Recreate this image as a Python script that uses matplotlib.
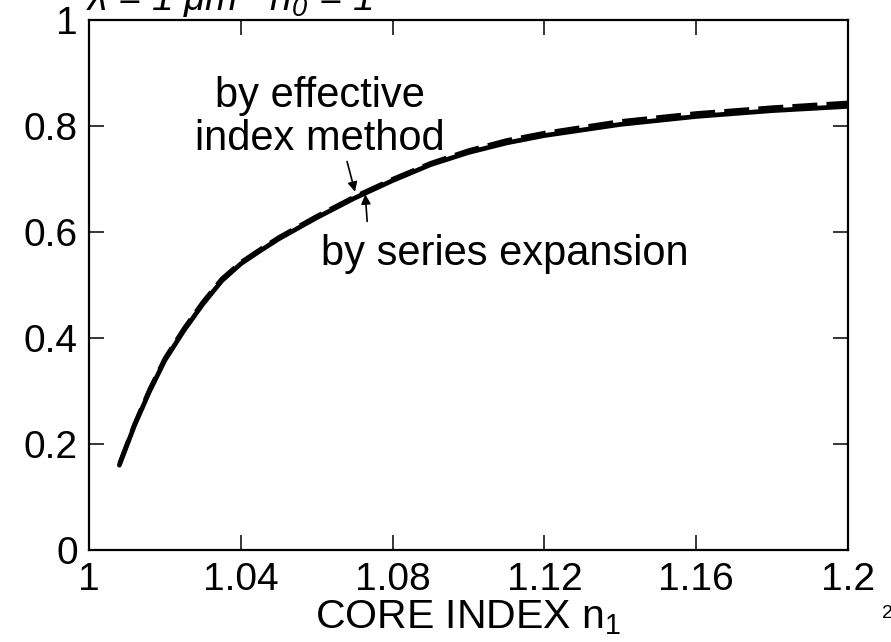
import matplotlib
matplotlib.use("Agg")
import matplotlib.pyplot as plt

# ---- data ----
n1 = [1.008, 1.012, 1.016, 1.020, 1.025, 1.030, 1.035, 1.040, 1.045, 1.050,
      1.060, 1.070, 1.080, 1.090, 1.100, 1.110, 1.120, 1.140, 1.160, 1.180, 1.200]
series_expansion = [0.160, 0.235, 0.300, 0.358, 0.414, 0.464, 0.508, 0.540, 0.564, 0.587,
                    0.627, 0.664, 0.697, 0.727, 0.750, 0.768, 0.782, 0.803, 0.818, 0.829, 0.837]
effective_index = [0.163, 0.238, 0.304, 0.362, 0.418, 0.468, 0.512, 0.543, 0.567, 0.590,
                   0.630, 0.667, 0.700, 0.730, 0.754, 0.773, 0.787, 0.809, 0.824, 0.835, 0.844]
xticks = [1.0, 1.04, 1.08, 1.12, 1.16, 1.2]
xticklabels = ["1", "1.04", "1.08", "1.12", "1.16", "1.2"]
yticks = [0, 0.2, 0.4, 0.6, 0.8, 1.0]
yticklabels = ["0", "0.2", "0.4", "0.6", "0.8", "1"]

plt.rcParams['font.family'] = ['Liberation Sans', 'DejaVu Sans']
plt.rcParams['mathtext.fontset'] = 'custom'
plt.rcParams['mathtext.rm'] = 'Liberation Sans'
plt.rcParams['mathtext.it'] = 'Liberation Sans:italic'

FS_TICK = 28
FS_ANN = 30
FS_LAB = 29.5

fig = plt.figure(figsize=(8.91, 6.42), dpi=100)
ax = fig.add_axes([89/891, 92/642, (848-89)/891, (550-20)/642])

ax.plot(n1, series_expansion, color='black', lw=3.4, solid_capstyle='round')
ax.plot(n1, effective_index, color='black', lw=3.0, dashes=(6, 2.2))

ax.set_xlim(1.0, 1.2)
ax.set_ylim(0, 1)
ax.set_xticks(xticks)
ax.set_xticklabels(xticklabels)
ax.set_yticks(yticks)
ax.set_yticklabels(yticklabels)
ax.tick_params(direction='in', length=11, width=1.1, top=True, right=True,
               labelsize=FS_TICK, colors='black')
ax.tick_params(axis='x', pad=9)
ax.tick_params(axis='y', pad=8)
for s in ax.spines.values():
    s.set_linewidth(1.6)

ax.set_xlabel(r'CORE INDEX n$_{\mathregular{1}}$', fontsize=FS_LAB, labelpad=0)

ax.text(1.0609, 0.835, 'by effective', fontsize=FS_ANN, ha='center', va='baseline')
ax.text(1.0609, 0.755, 'index method', fontsize=FS_ANN, ha='center', va='baseline')
ax.text(1.0611, 0.537, 'by series expansion', fontsize=FS_ANN, ha='left', va='baseline')

arrow = dict(arrowstyle='-|>', lw=1.2, color='black', mutation_scale=14,
             shrinkA=0, shrinkB=0)
ax.annotate('', xy=(1.0701, 0.676), xytext=(1.0680, 0.733), arrowprops=arrow)
ax.annotate('', xy=(1.0728, 0.671), xytext=(1.0733, 0.620), arrowprops=arrow)

# clipped header text and page number (partially visible in reference)
fig.text(86/891, 1 - 10/642, r'$\lambda$ = 1 $\mu$m   n$_{\mathregular{0}}$ = 1',
         fontsize=FS_TICK, style='italic', va='baseline', ha='left')
fig.text(882/891, 1 - 618/642, '2', fontsize=14, va='baseline', ha='left')

fig.savefig('out.png', dpi=100)
